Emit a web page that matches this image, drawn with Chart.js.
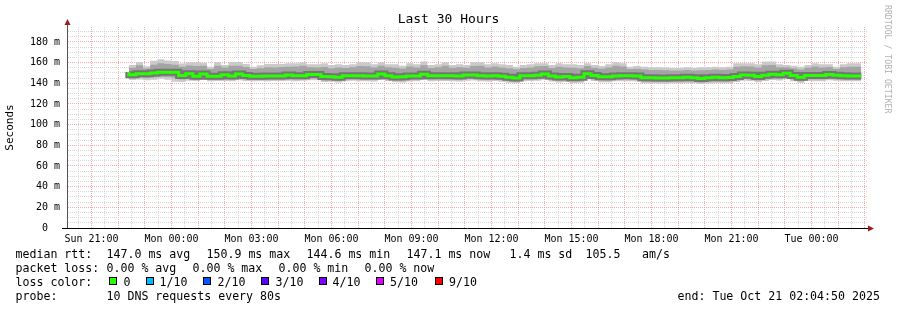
<!DOCTYPE html>
<html><head><meta charset="utf-8">
<script src="https://cdn.jsdelivr.net/npm/chart.js@4.4.1/dist/chart.umd.min.js"></script>
<style>
html,body{margin:0;padding:0;background:#fff;}
#wrap{position:relative;width:897px;height:310px;overflow:hidden;font-family:'DejaVu Sans Mono',monospace;color:#000;background:#fff;}
#c{position:absolute;left:0;top:0;width:897px;height:310px;}
.t{position:absolute;white-space:pre;font-size:11.6px;line-height:14px;}
.sq{position:absolute;width:8px;height:8px;box-sizing:border-box;border:1px solid #000;}
#title{position:absolute;left:0;width:897px;text-align:center;top:11px;font-size:13px;line-height:16px;white-space:pre;}
#wm{position:absolute;left:893px;top:5px;font-size:8.2px;line-height:10px;color:#b0b0b0;transform:rotate(90deg);transform-origin:0 0;white-space:pre;}
</style></head>
<body><div id="wrap"><canvas id="c" width="897" height="310"></canvas>
<div id="title">Last 30 Hours</div>
<div id="wm">RRDTOOL / TOBI OETIKER</div>

<div class="t" style="left:15.5px;top:247px">median rtt:</div>
<div class="t" style="left:106.5px;top:247px">147.0 ms avg</div>
<div class="t" style="left:206.5px;top:247px">150.9 ms max</div>
<div class="t" style="left:306.5px;top:247px">144.6 ms min</div>
<div class="t" style="left:406.5px;top:247px">147.1 ms now</div>
<div class="t" style="left:509.5px;top:247px">1.4 ms sd</div>
<div class="t" style="left:585.5px;top:247px">105.5</div>
<div class="t" style="left:642px;top:247px">am/s</div>

<div class="t" style="left:15.5px;top:261px">packet loss:</div>
<div class="t" style="left:106.5px;top:261px">0.00 % avg</div>
<div class="t" style="left:192.5px;top:261px">0.00 % max</div>
<div class="t" style="left:278.5px;top:261px">0.00 % min</div>
<div class="t" style="left:364.5px;top:261px">0.00 % now</div>

<div class="t" style="left:15.5px;top:275px">loss color:</div>
<div class="sq" style="left:109px;top:277px;background:#26ff00"></div>
<div class="t" style="left:123.5px;top:275px">0</div>
<div class="sq" style="left:146px;top:277px;background:#00b8ff"></div>
<div class="t" style="left:159.5px;top:275px">1/10</div>
<div class="sq" style="left:203px;top:277px;background:#0059ff"></div>
<div class="t" style="left:217.5px;top:275px">2/10</div>
<div class="sq" style="left:261px;top:277px;background:#5e00ff"></div>
<div class="t" style="left:275.5px;top:275px">3/10</div>
<div class="sq" style="left:319px;top:277px;background:#7e00ff"></div>
<div class="t" style="left:332.5px;top:275px">4/10</div>
<div class="sq" style="left:376px;top:277px;background:#dd00ff"></div>
<div class="t" style="left:390px;top:275px">5/10</div>
<div class="sq" style="left:435px;top:277px;background:#ff0000"></div>
<div class="t" style="left:449px;top:275px">9/10</div>

<div class="t" style="left:15.5px;top:289px">probe:</div>
<div class="t" style="left:106.5px;top:289px">10 DNS requests every 80s</div>
<div class="t" style="left:677.5px;top:289px">end: Tue Oct 21 02:04:50 2025</div>
</div>
<script>
// ---- time frame (hours counted from Sun 00:00) ----
const endHour = 48 + 2 + 4/60 + 50/3600;   // Tue 02:04:50
const startHour = endHour - 30;             // Last 30 hours
const firstBinHour = 22 + 24/60;            // first smoke bin: Sun 22:24
const binHours = 16/60;                     // 960 s bins

const xLabelHours = [21, 24, 27, 30, 33, 36, 39, 42, 45, 48];
const xTickLabels = ['Sun 21:00','Mon 00:00','Mon 03:00','Mon 06:00','Mon 09:00','Mon 12:00','Mon 15:00','Mon 18:00','Mon 21:00','Tue 00:00'];
const yTickValues = [0, 20, 40, 60, 80, 100, 120, 140, 160, 180];
const yTickLabels = ['0  ','20 m','40 m','60 m','80 m','100 m','120 m','140 m','160 m','180 m'];

// ---- values in ms ----
const medianRtt = [150.9,148.4,149.3,149.2,150.1,150.7,150.8,150.6,147.6,149.2,
146.9,149.1,146.9,146.9,148.2,147.2,148.9,147.6,146.9,146.9,
147.2,147.1,147.2,148.0,147.4,147.4,148.6,148.5,146.5,146.4,
145.9,147.4,147.4,147.3,147.1,147.1,148.9,147.4,146.2,146.3,
147.1,147.1,148.7,147.4,147.4,147.4,147.4,147.1,148.1,148.1,
147.4,147.1,147.4,146.8,145.8,145.2,147.4,147.4,147.7,149.0,
147.0,146.2,146.6,145.5,145.8,149.2,147.6,146.4,146.3,147.2,
147.3,147.4,147.1,145.4,145.4,145.2,145.1,145.4,145.3,145.8,
145.5,144.6,145.3,145.8,145.5,145.6,146.6,148.1,147.8,146.5,
147.8,148.7,148.3,149.8,147.6,145.8,147.6,147.5,147.5,148.6,
147.9,147.4,147.1];

const smokeMax = [160.6,157.7,160.6,156.5,161.8,163.2,162.2,161.5,159.3,160.3,
160.3,160.0,156.0,160.6,157.7,160.6,160.6,158.7,156.1,157.4,
158.7,158.7,158.7,159.4,159.4,160.3,158.4,158.4,159.4,157.7,
158.4,157.7,158.4,160.3,160.3,158.4,160.3,158.4,158.4,157.1,
159.4,158.4,161.0,157.7,158.4,160.3,157.7,158.4,157.7,160.3,
160.3,158.4,159.4,158.4,157.7,156.1,157.7,158.4,159.4,159.4,
157.7,159.4,158.4,158.4,157.7,159.4,157.7,156.8,158.4,160.3,
159.4,156.1,156.8,156.1,155.5,155.5,155.2,154.8,154.8,155.5,
154.8,155.5,155.5,156.1,155.5,156.1,159.4,159.4,159.4,158.4,
161.0,161.0,158.4,157.7,157.1,156.1,157.7,159.4,158.4,158.4,
156.1,158.4,159.4];

const smokeUpper = [157.2,155.0,157.5,154.4,158.0,159.5,158.8,158.0,156.0,157.2,
156.8,156.9,153.8,157.0,155.2,157.1,156.9,155.8,153.9,154.6,
155.6,155.4,155.9,156.1,156.3,157.0,155.6,155.4,155.9,154.7,
155.2,154.9,155.5,156.8,156.6,155.3,157.1,155.6,155.0,154.3,
156.2,155.3,157.6,154.9,155.6,156.9,155.0,155.5,155.1,156.8,
156.9,155.4,156.2,155.3,154.6,153.7,154.9,155.3,156.4,156.7,
154.9,156.0,155.2,155.0,154.6,156.8,155.0,154.1,155.3,156.9,
156.2,153.8,154.2,153.4,152.9,152.8,152.7,152.4,152.3,152.9,
152.5,152.6,152.8,153.4,152.9,153.3,156.0,156.4,156.2,155.2,
157.6,157.8,155.5,155.6,154.6,153.4,155.0,156.2,155.4,155.8,
153.9,155.5,156.1];

const smokeLower = [146.4,144.7,145.6,145.2,145.8,146.3,146.0,145.5,143.6,145.1,
143.3,145.0,143.1,143.4,144.2,143.4,144.8,143.7,143.1,143.2,
143.4,143.5,143.4,144.1,143.7,143.8,144.7,144.6,142.8,142.9,
142.4,143.7,143.9,143.6,143.5,143.4,144.9,143.7,142.7,142.6,
143.4,143.6,144.8,143.7,143.9,143.8,143.6,143.5,144.2,144.3,
143.7,143.4,143.8,143.1,142.2,141.7,143.7,143.8,144.0,145.1,
143.3,142.6,142.9,141.9,142.1,145.2,143.8,142.7,142.6,143.5,
143.6,143.7,143.4,141.7,141.6,141.4,141.3,141.6,141.5,141.9,
141.7,140.9,141.5,142.0,141.7,141.8,142.8,144.1,143.8,142.7,
143.9,144.7,144.4,145.6,143.7,142.1,143.8,143.6,143.7,144.6,
144.0,143.6,143.4];

const smokeMin = [144.5,143.2,143.8,142.9,143.5,144.5,143.5,141.6,141.3,142.5,
142.2,143.2,141.9,142.2,142.2,141.9,142.9,142.2,141.9,142.2,
141.9,142.2,142.2,142.6,142.0,142.4,143.0,142.9,141.3,141.5,
140.9,142.1,142.4,142.0,141.9,141.7,143.3,142.2,141.1,140.9,
141.8,142.0,143.2,142.0,142.3,142.2,141.9,141.8,142.6,142.7,
142.0,141.7,142.2,141.5,140.6,140.1,142.0,142.2,142.4,143.5,
141.7,140.9,141.3,140.3,140.5,143.6,142.2,141.1,141.0,141.9,
142.0,142.1,141.8,140.1,140.0,139.8,139.7,140.0,139.9,140.3,
140.1,139.4,139.9,140.4,140.1,140.2,141.2,142.5,142.2,141.1,
142.3,143.1,142.8,144.0,142.1,140.5,142.2,142.0,142.1,143.0,
142.4,142.0,141.9];

// ---- helpers ----
function steps(arr){
  const pts = arr.map((v,i)=>({x: firstBinHour + i*binHours, y: v}));
  pts.push({x: firstBinHour + arr.length*binHours, y: arr[arr.length-1]});
  return pts;
}
const gridHours = [];
for (let h = Math.ceil(startHour*2)/2; h <= endHour; h += 0.5) gridHours.push(h);
const yGrid = [];
for (let v = 0; v <= 190; v += 5) yGrid.push(v);

const PINK = 'rgba(242,150,150,0.8)';
const GREY = 'rgba(205,205,205,0.8)';
const NONE = 'rgba(0,0,0,0)';

const axisArrows = {
  id: 'axisArrows',
  afterDraw(chart){
    const {ctx, chartArea: a} = chart;
    ctx.save();
    ctx.fillStyle = '#000';
    ctx.fillRect(a.left - 5, a.bottom, 6, 1);
    ctx.fillRect(a.right, a.bottom, 2, 1);
    ctx.fillStyle = '#555';
    ctx.fillRect(a.left, a.top - 3, 1, 3);
    ctx.fillStyle = '#9b1c1c';
    ctx.beginPath();
    ctx.moveTo(a.left + 0.5, a.top - 8);
    ctx.lineTo(a.left + 3.5, a.top - 2);
    ctx.lineTo(a.left - 2.5, a.top - 2);
    ctx.closePath(); ctx.fill();
    ctx.beginPath();
    ctx.moveTo(a.right + 7, a.bottom + 0.5);
    ctx.lineTo(a.right + 1, a.bottom - 2.5);
    ctx.lineTo(a.right + 1, a.bottom + 3.5);
    ctx.closePath(); ctx.fill();
    ctx.restore();
  }
};

Chart.defaults.font.family = "'DejaVu Sans Mono', monospace";
Chart.defaults.color = '#000';

const line = {stepped: 'after', pointRadius: 0, pointHoverRadius: 0, tension: 0};

new Chart(document.getElementById('c'), {
  type: 'line',
  data: {
    datasets: [
      Object.assign({label: 'median rtt', data: steps(medianRtt), borderColor: '#26ff00', borderWidth: 3, fill: false, order: 0}, line),
      Object.assign({label: 'halo', data: steps(medianRtt), borderColor: '#767676', borderWidth: 7, fill: false, order: 1}, line),
      Object.assign({label: 'upper', data: steps(smokeUpper), borderColor: NONE, borderWidth: 0, backgroundColor: '#a4a4a4', fill: 3, order: 2}, line),
      Object.assign({label: 'lower', data: steps(smokeLower), borderColor: NONE, borderWidth: 0, fill: false, order: 3}, line),
      Object.assign({label: 'max', data: steps(smokeMax), borderColor: NONE, borderWidth: 0, backgroundColor: '#cacaca', fill: 5, order: 4}, line),
      Object.assign({label: 'min', data: steps(smokeMin), borderColor: NONE, borderWidth: 0, fill: false, order: 5}, line)
    ]
  },
  options: {
    responsive: false,
    animation: false,
    events: [],
    layout: {padding: {left: 0, top: 27, right: 30, bottom: 0}},
    plugins: {legend: {display: false}, tooltip: {enabled: false}, title: {display: false}},
    scales: {
      x: {
        type: 'linear', min: startHour, max: endHour, z: 1,
        afterBuildTicks: s => { s.ticks = gridHours.map(v => ({value: v})); },
        afterFit: s => { s.height = 82; },
        ticks: {
          autoSkip: false, maxRotation: 0, minRotation: 0, padding: 5,
          font: {size: 10}, color: '#000',
          callback: v => { const i = xLabelHours.indexOf(v); return i >= 0 ? xTickLabels[i] : ''; }
        },
        grid: {drawTicks: false, lineWidth: 1, color: c => (c.tick && c.tick.value % 1 === 0) ? PINK : GREY},
        border: {display: true, color: '#000', width: 1, dash: [1, 1]}
      },
      y: {
        type: 'linear', min: 0, max: 194.5, z: 1,
        afterBuildTicks: s => { s.ticks = yGrid.map(v => ({value: v})); },
        afterFit: s => { s.width = 67; },
        ticks: {
          autoSkip: false, padding: 7, font: {size: 10}, color: '#000',
          callback: v => { const i = yTickValues.indexOf(v); return i >= 0 ? yTickLabels[i] : ''; }
        },
        grid: {drawTicks: false, lineWidth: 1, color: c => (c.tick && c.tick.value % 20 === 0) ? PINK : GREY},
        border: {display: true, color: '#555', width: 1, dash: [1, 1]},
        title: {display: true, text: 'Seconds', font: {size: 11}, color: '#000', padding: {top: 4, bottom: 0}}
      }
    }
  },
  plugins: [axisArrows]
});
</script>
</body></html>
